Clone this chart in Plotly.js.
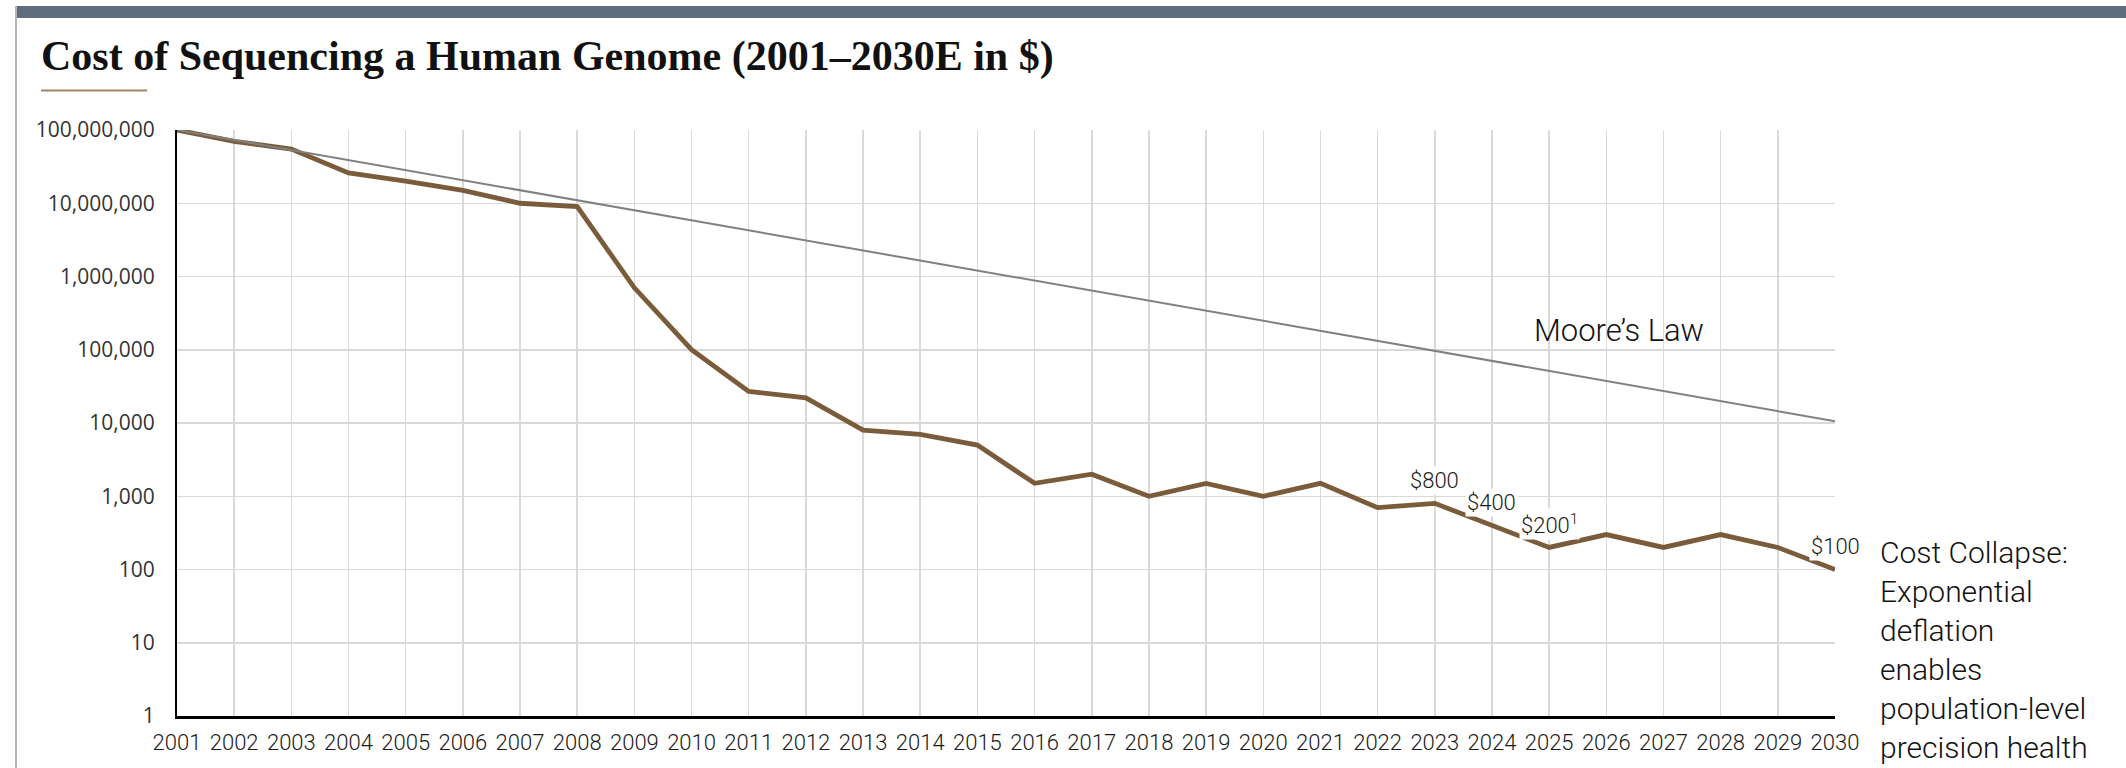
<!DOCTYPE html>
<html>
<head>
<meta charset="utf-8">
<script src="https://cdn.plot.ly/plotly-3.0.1.min.js"></script>
<style>
html,body{margin:0;padding:0;background:#fff;}
#chart{width:2126px;height:768px;}
</style>
</head>
<body>
<div id="chart"></div>
<script>
// ---- data ----
const years = [2001,2002,2003,2004,2005,2006,2007,2008,2009,2010,2011,2012,2013,2014,2015,2016,2017,2018,2019,2020,2021,2022,2023,2024,2025,2026,2027,2028,2029,2030];
const cost = [100000000,70000000,55000000,26000000,20000000,15000000,10000000,9000000,700000,100000,27000,22000,8000,7000,5000,1500,2000,1000,1500,1000,1500,700,800,400,200,300,200,300,200,100];
const mooreYears = [2001,2030];
const mooreValues = [100000000,10600];
const labelYears = [2023,2024,2025,2030];
const labelTexts = ['$800','$400','$200<sup>1</sup>','$100'];
const yTickVals = [1,10,100,1000,10000,100000,1000000,10000000,100000000];
const yTickText = ['1','10','100','1,000','10,000','100,000','1,000,000','10,000,000','100,000,000'];
const titleText = 'Cost of Sequencing a Human Genome (2001\u20132030E in $)';
const mooreLabel = 'Moore\u2019s Law';
const sideNote = 'Cost Collapse:<br>Exponential<br>deflation<br>enables<br>population-level<br>precision health';

// ---- layout helpers ----
const W = 2126, H = 768;
const L = 177, R = 291, T = 130, B = 52;
const pw = W - L - R, ph = H - T - B;
const px = x => (x - L) / pw;            // pixel x -> paper x
const py = y => (H - B - y) / ph;        // pixel y -> paper y

const traces = [
  {x: years, y: cost, type: 'scatter', mode: 'lines',
   line: {color: '#7a5c3a', width: 4.8}, hoverinfo: 'x+y'},
  {x: mooreYears, y: mooreValues, type: 'scatter', mode: 'lines',
   line: {color: '#808080', width: 2}, hoverinfo: 'x+y'}
];

const annotations = labelYears.map((yr, i) => ({
  x: yr, y: Math.log10(cost[years.indexOf(yr)]), xref: 'x', yref: 'y',
  xanchor: 'center', yanchor: 'middle',
  text: labelTexts[i], showarrow: false, yshift: 23,
  bgcolor: '#ffffff', borderpad: 1,
  font: {family: 'Roboto', size: 22, weight: 300, color: '#1a1a1a'}
}));
annotations.push({
  x: px(1619), y: py(330), xref: 'paper', yref: 'paper',
  xanchor: 'center', yanchor: 'middle',
  text: mooreLabel, showarrow: false,
  font: {family: 'Roboto', size: 31, weight: 300, color: '#111'}
});
annotations.push({
  x: px(1878), y: py(650), xref: 'paper', yref: 'paper',
  xanchor: 'left', yanchor: 'middle', align: 'left',
  text: sideNote, showarrow: false,
  font: {family: 'Roboto', size: 30, weight: 300, color: '#111'}
});

const layout = {
  width: W, height: H,
  margin: {l: L, r: R, t: T, b: B},
  paper_bgcolor: '#fff', plot_bgcolor: '#fff',
  showlegend: false,
  title: {
    text: titleText, xref: 'container', yref: 'container',
    x: 41 / W, xanchor: 'left', y: 1 - 55 / H, yanchor: 'middle',
    font: {family: 'Liberation Serif', size: 42, weight: 700, color: '#111'}
  },
  xaxis: {
    type: 'linear', range: [2001, 2030], tickvals: years,
    ticktext: years.map(String),
    showgrid: true, gridcolor: '#d9d9d9', gridwidth: 1.5,
    showline: true, linecolor: '#000', linewidth: 2.5,
    zeroline: false, ticks: '', ticklabelstandoff: 5,
    tickfont: {family: 'Roboto', size: 22, weight: 300, color: '#1a1a1a'}
  },
  yaxis: {
    type: 'log', range: [0, 8], tickvals: yTickVals, ticktext: yTickText,
    showgrid: true, gridcolor: '#d9d9d9', gridwidth: 1.5,
    showline: true, linecolor: '#000', linewidth: 2,
    zeroline: false, ticks: '', ticklabelstandoff: 16,
    tickfont: {family: 'Open Sans', size: 21, weight: 400, color: '#333'}
  },
  annotations: annotations,
  shapes: [
    {type: 'rect', xref: 'paper', yref: 'paper', x0: px(15), x1: px(W), y0: py(18), y1: py(6),
     fillcolor: '#5f6e7e', line: {width: 0}, layer: 'above'},
    {type: 'line', xref: 'paper', yref: 'paper', x0: px(16), x1: px(16), y0: py(6), y1: py(H),
     line: {color: '#b5b5b5', width: 2}},
    {type: 'line', xref: 'paper', yref: 'paper', x0: px(41), x1: px(147), y0: py(90.5), y1: py(90.5),
     line: {color: '#9d8461', width: 2}}
  ]
};

Plotly.newPlot('chart', traces, layout, {displayModeBar: false, staticPlot: true});
</script>
</body>
</html>
